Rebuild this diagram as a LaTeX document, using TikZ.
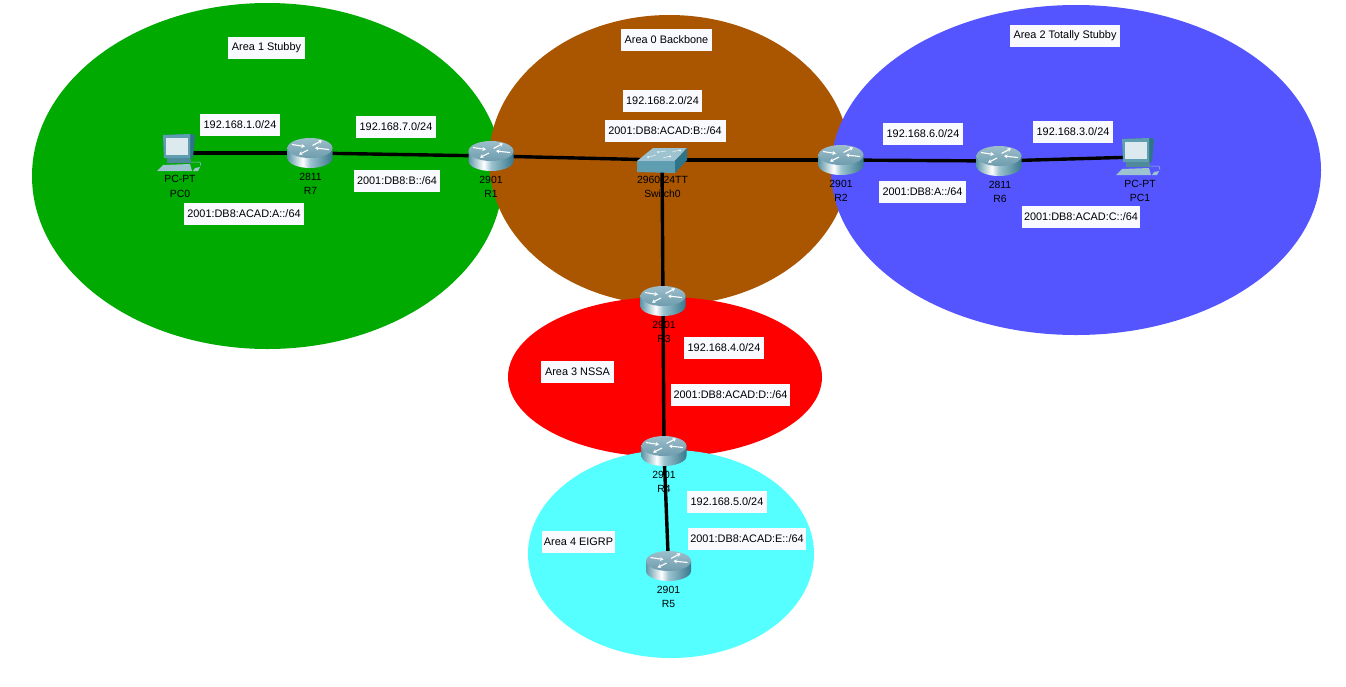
\documentclass[tikz,border=0pt]{standalone}
\usepackage{fontspec}
\usetikzlibrary{arrows.meta}
\setmainfont{Liberation Sans}
\definecolor{areagreen}{HTML}{00AA00}
\definecolor{areabrown}{HTML}{AA5500}
\definecolor{areablue}{HTML}{5555FF}
\definecolor{areared}{HTML}{FF0000}
\definecolor{areacyan}{HTML}{55FFFF}
\definecolor{icoDark}{HTML}{2F7589}
\definecolor{icoMid}{HTML}{5F9DB0}
\definecolor{icoLight}{HTML}{9CC3CF}
\definecolor{icoPale}{HTML}{DCE9EF}
\definecolor{rtrTop}{HTML}{9DBECB}
\definecolor{rtrEdge}{HTML}{6E9CAD}
\definecolor{rtrL}{HTML}{5E97A8}
\definecolor{rtrR}{HTML}{38788C}
\definecolor{lblfill}{HTML}{F8FAFF}
\pgfdeclarehorizontalshading{routerbody}{100bp}{color(0bp)=(rtrL); color(25bp)=(rtrL); color(42bp)=(white); color(50bp)=(icoLight); color(75bp)=(rtrR); color(100bp)=(rtrR)}
\tikzset{
  x=1pt,y=-1pt,
  link/.style={line width=3.4pt,black},
  netlabel/.style={fill=lblfill,text=black,font=\fontsize{10.9}{13}\selectfont,inner sep=0pt,minimum height=22pt},
  devlabel/.style={text=black,font=\fontsize{10.4}{14.5}\selectfont,align=center,inner sep=0pt},
  rarrow/.style={white,line width=1.1pt,-{Stealth[length=3.5pt,width=4pt]}},
  routerpic/.pic={
    \path[shading=routerbody]
      (-22.5,-5) -- (-22.5,5) arc[start angle=180,end angle=0,x radius=22.5,y radius=10] -- (22.5,-5) -- cycle;
    \path[top color=rtrTop,bottom color=rtrEdge] (0,-5) ellipse[x radius=22.5,y radius=10];
    \draw[rarrow] (-18,-8.5) -- (-5,-6.5);
    \draw[rarrow] (19,-3.5) -- (5,-5);
    \draw[rarrow] (2.5,-7.5) -- (12,-12.5);
    \draw[rarrow] (-2,-3) -- (-11,1.5);
  },
  switchpic/.pic={
    \fill[icoLight] (-25,1) -- (-9,-12) -- (25,-12) -- (13,1) -- cycle;
    \fill[icoMid] (-25,1) -- (13,1) -- (13,13) -- (-25,12) -- cycle;
    \fill[icoDark] (13,1) -- (25,-12) -- (25,0) -- (13,13) -- cycle;
    \draw[icoPale,line width=0.7pt] (-13,-3) -- (-6,-5) (-3,-8) -- (4,-9) (1,-2) -- (8,-4) (10,-8) -- (18,-10);
    \fill[white] (-14,-3) circle[radius=1] (-4,-8) circle[radius=1] (8,-3.5) circle[radius=1] (18,-9.5) circle[radius=1];
  },
  pcpic/.pic={
    \fill[icoDark] (-15,-18) -- (15,-19) -- (17,-17) -- (15,5) -- (-14,5) -- cycle;
    \fill[icoMid] (-15,-18) -- (12,-19) -- (12,5) -- (-14,5) -- cycle;
    \fill[icoPale] (-12,-15) -- (10,-15) -- (10,2) -- (-12,2) -- cycle;
    \fill[icoDark!85!white] (-11,5) -- (12,5) -- (14,10) -- (-11,10) -- cycle;
    \fill[icoLight] (-21,18) -- (-15,12) -- (12,11) -- (14,18) -- cycle;
    \fill[icoLight] (15,18) -- (17,15) -- (22,14) -- (20,18) -- cycle;
    \draw[icoLight,line width=0.5pt] (14,9) -- (22,9) -- (23,13);
  }
}
\begin{document}
\begin{tikzpicture}
\useasboundingbox (0,0) rectangle (1346,686);
\fill[white] (0,0) rectangle (1346,686);
% areas
\fill[areagreen] (267.5,176) ellipse[x radius=235.5,y radius=173];
\fill[areabrown] (669.5,160) ellipse[x radius=180.5,y radius=145];
\fill[areablue] (1076,170) ellipse[x radius=245,y radius=165];
\fill[areared] (665,377) ellipse[x radius=157,y radius=80];
\fill[areacyan] (671,554) ellipse[x radius=143,y radius=104];
% device anchors
\coordinate (PC0) at (178,153);
\coordinate (R7) at (310,153);
\coordinate (R1) at (491,156);
\coordinate (SW) at (662,160);
\coordinate (R2) at (841,160);
\coordinate (R6) at (999,161);
\coordinate (PC1) at (1137,157);
\coordinate (R3) at (663,301);
\coordinate (R4) at (664,451);
\coordinate (R5) at (668.5,566);
% connectors
\draw[link] (PC0) -- (R7);
\draw[link] (R7) -- (R1);
\draw[link] (R1) -- (SW);
\draw[link] (SW) -- (R2);
\draw[link] (R2) -- (R6);
\draw[link] (R6) -- (PC1);
\draw[link] (SW) -- (R3);
\draw[link] (R3) -- (R4);
\draw[link] (R4) -- (R5);
% icons
\pic at (PC0) {pcpic};
\pic at (PC1) {pcpic};
\pic at (R7) {routerpic};
\pic at (R1) {routerpic};
\pic at (R2) {routerpic};
\pic at (R6) {routerpic};
\pic at (R3) {routerpic};
\pic at (R4) {routerpic};
\pic at (R5) {routerpic};
\pic at (SW) {switchpic};
% device labels
\node[devlabel] (lPC0) at (180,186.5) {PC-PT\\PC0};
\node[devlabel] (lR7) at (310.5,184) {2811\\R7};
\node[devlabel] (lR1) at (491,187) {2901\\R1};
\node[devlabel] (lSW) at (662.5,187) {2960-24TT\\Switch0};
\node[devlabel] (lR2) at (841,191) {2901\\R2};
\node[devlabel] (lR6) at (1000,192) {2811\\R6};
\node[devlabel] (lPC1) at (1140,191) {PC-PT\\PC1};
\node[devlabel] (lR3) at (664,332) {2901\\R3};
\node[devlabel] (lR4) at (664,482) {2901\\R4};
\node[devlabel] (lR5) at (668.5,597) {2901\\R5};
% network and area labels
\node[netlabel,minimum width=77pt] (a1) at (266.5,48) {Area 1 Stubby};
\node[netlabel,minimum width=91pt] (a0) at (666.5,40) {Area 0 Backbone};
\node[netlabel,minimum width=110pt] (a2) at (1065,36) {Area 2 Totally Stubby};
\node[netlabel,minimum width=73pt] (a3) at (577.5,372) {Area 3 NSSA};
\node[netlabel,minimum width=73pt] (a4) at (578.5,542) {Area 4 EIGRP};
\node[netlabel,minimum width=80pt] (n1) at (240,125) {192.168.1.0/24};
\node[netlabel,minimum width=120pt] (n1b) at (244,214) {2001:DB8:ACAD:A::/64};
\node[netlabel,minimum width=80pt] (n7) at (396,127) {192.168.7.0/24};
\node[netlabel,minimum width=86pt] (n7b) at (397,181) {2001:DB8:B::/64};
\node[netlabel,minimum width=79pt] (n2) at (662.5,101) {192.168.2.0/24};
\node[netlabel,minimum width=121pt] (n2b) at (665,131) {2001:DB8:ACAD:B::/64};
\node[netlabel,minimum width=80pt] (n6) at (923,134) {192.168.6.0/24};
\node[netlabel,minimum width=87pt] (n6b) at (922.5,192) {2001:DB8:A::/64};
\node[netlabel,minimum width=80pt] (n3) at (1073,132) {192.168.3.0/24};
\node[netlabel,minimum width=118pt] (n3b) at (1081,217) {2001:DB8:ACAD:C::/64};
\node[netlabel,minimum width=80pt] (n4) at (724,348) {192.168.4.0/24};
\node[netlabel,minimum width=119pt] (n4b) at (730.5,395) {2001:DB8:ACAD:D::/64};
\node[netlabel,minimum width=80pt] (n5) at (727,502) {192.168.5.0/24};
\node[netlabel,minimum width=118pt] (n5b) at (747,539) {2001:DB8:ACAD:E::/64};
\end{tikzpicture}
\end{document}
